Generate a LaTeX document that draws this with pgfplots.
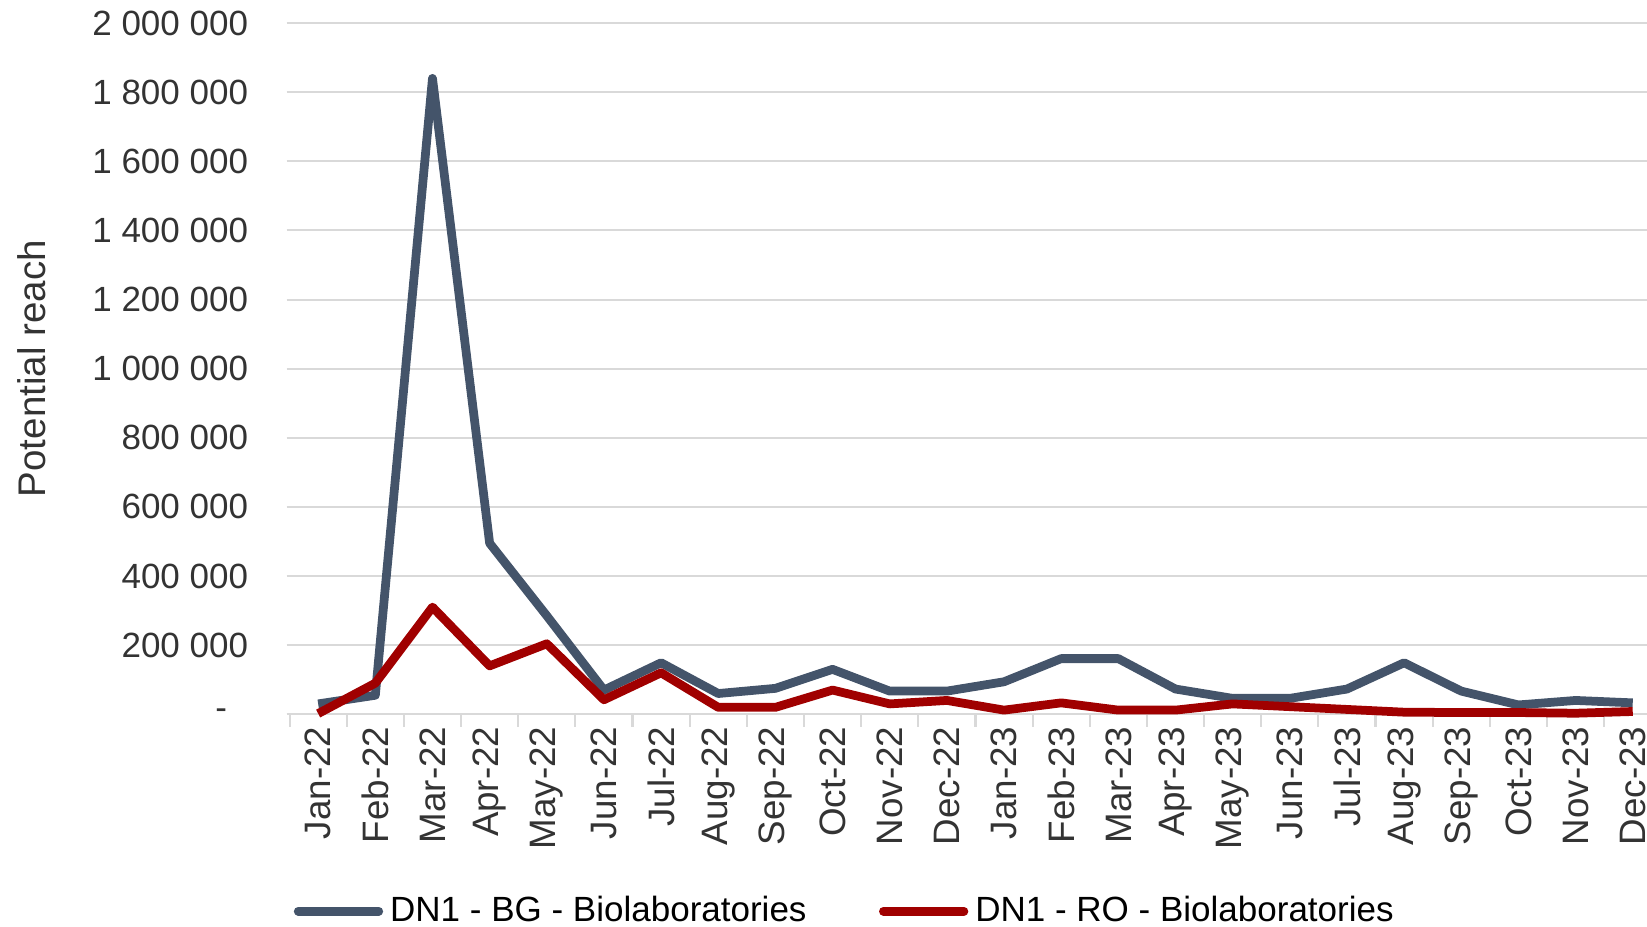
\documentclass[border=0pt]{standalone}
\usepackage{fontspec}
\setmainfont{Liberation Sans}
\usepackage{pgfplots}
\pgfplotsset{compat=1.18}

\definecolor{bgline}{RGB}{68,84,106}
\definecolor{roline}{RGB}{160,0,0}
\definecolor{gridgray}{RGB}{217,217,217}

\begin{document}
\begin{tikzpicture}
\begin{axis}[
    scale only axis,
    width=388.5pt, height=197.4pt,
    font=\fontsize{10}{12}\selectfont,
    xmin=-0.55, xmax=23.25,
    ymin=0, ymax=2000000,
    scaled y ticks=false,
    axis x line*=bottom,
    axis y line*=left,
    x axis line style={gridgray, line width=0.6pt, -},
    y axis line style={draw=none},
    clip=false,
    xtick={0,...,23},
    xticklabels={Jan-22,Feb-22,Mar-22,Apr-22,May-22,Jun-22,Jul-22,Aug-22,Sep-22,Oct-22,Nov-22,Dec-22,
                 Jan-23,Feb-23,Mar-23,Apr-23,May-23,Jun-23,Jul-23,Aug-23,Sep-23,Oct-23,Nov-23,Dec-23},
    major tick length=0pt,
    major x tick style={draw=none},
    minor xtick={-0.5,0.5,...,22.5},
    minor x tick style={gridgray, line width=0.6pt},
    minor tick length=3.6pt,
    tick align=outside,
    xticklabel style={rotate=90, anchor=east, text=black!80,
        font=\fontsize{10.5}{12}\selectfont},
    ytick={0,200000,...,2000000},
    ytick style={draw=none},
    yticklabels={{-\hspace*{6pt}},200 000,400 000,600 000,800 000,1 000 000,1 200 000,1 400 000,1 600 000,1 800 000,2 000 000},
    yticklabel style={text=black!80, xshift=-7.5pt},
    ymajorgrids=true,
    grid style={gridgray, line width=0.6pt},
    ylabel={Potential reach},
    ylabel style={at={(axis description cs:-0.1876,0.5)}, anchor=center, text=black!80,
        font=\fontsize{11}{13}\selectfont},
    legend columns=2,
    legend style={at={(axis description cs:-0.003,-0.285)}, anchor=west, draw=none, fill=none,
        font=\fontsize{10}{12}\selectfont,
        /tikz/every even column/.append style={column sep=18.7pt}},
    legend image code/.code={\draw[#1, line cap=round] (0pt,0pt) -- (23pt,0pt);},
]
\addplot[bgline, line width=2.5pt, line join=round] coordinates {
    (0,30000) (1,55000) (2,1840000) (3,495000) (4,285000) (5,70000)
    (6,149000) (7,60000) (8,75000) (9,130000) (10,67000) (11,67000)
    (12,94000) (13,161000) (14,161000) (15,73000) (16,46000) (17,46000)
    (18,73000) (19,149000) (20,67000) (21,27000) (22,40000) (23,33000)
};
\addlegendentry{DN1 - BG - Biolaboratories}
\addplot[roline, line width=2.5pt, line join=round] coordinates {
    (0,2000) (1,90000) (2,310000) (3,140000) (4,204000) (5,42000)
    (6,120000) (7,20000) (8,20000) (9,70000) (10,30000) (11,40000)
    (12,12000) (13,33000) (14,12000) (15,12000) (16,30000) (17,22000)
    (18,14000) (19,6000) (20,5000) (21,5000) (22,3000) (23,8000)
};
\addlegendentry{DN1 - RO - Biolaboratories}
% the reference is cropped at the right edge of the plot area
\coordinate (bbSW) at (axis description cs:-0.2108,-0.307);
\coordinate (bbNE) at (axis description cs:1.0,1.0334);
\end{axis}
\pgfresetboundingbox
\path[use as bounding box] (bbSW) rectangle (bbNE);
\end{tikzpicture}
\end{document}
